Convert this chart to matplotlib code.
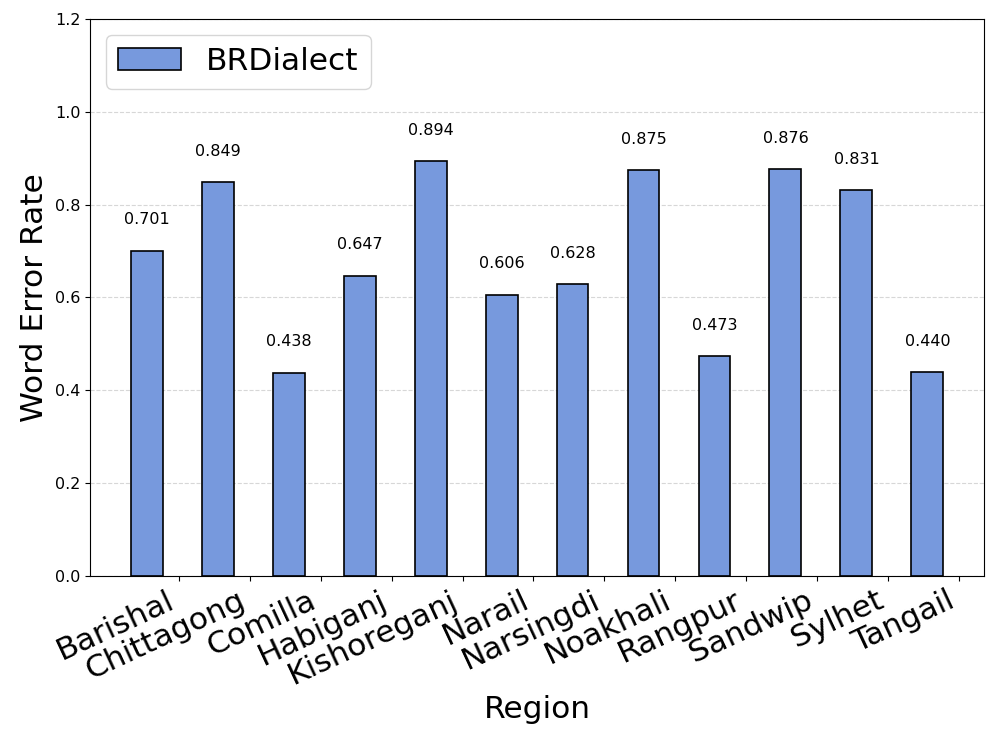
import numpy as np
import matplotlib
matplotlib.use("Agg")
import matplotlib.pyplot as plt

# datos
regiones = ["Barishal", "Chittagong", "Comilla", "Habiganj", "Kishoreganj", "Narail",
            "Narsingdi", "Noakhali", "Rangpur", "Sandwip", "Sylhet", "Tangail"]
wer_brdialect = [0.701, 0.849, 0.438, 0.647, 0.894, 0.606,
                 0.628, 0.875, 0.473, 0.876, 0.831, 0.440]

x = np.arange(len(regiones))
ancho = 0.45

fig, ax = plt.subplots(figsize=(9.97, 7.44), dpi=100)
fig.subplots_adjust(left=0.0903, right=0.987, top=0.9745, bottom=0.2258)

barras = ax.bar(x - ancho, wer_brdialect, ancho, color='#7799dd',
                edgecolor='black', linewidth=1.2, label='BRDialect')

for b, v in zip(barras, wer_brdialect):
    ax.text(b.get_x() + b.get_width() / 2, v + 0.05, f"{v:.3f}",
            ha='center', va='bottom', fontsize=11.5)

ax.set_xticks(x)
ax.set_xticklabels(regiones, rotation=25, ha='right', fontsize=22.5)
ax.set_ylim(0, 1.2)
ax.tick_params(axis='y', labelsize=11.5)
ax.set_xlabel("Region", fontsize=22.5)
ax.set_ylabel("Word Error Rate", fontsize=22.5)
ax.yaxis.grid(True, linestyle='--', alpha=0.5)
ax.set_axisbelow(True)
ax.legend(loc='upper left', fontsize=22.5)

plt.savefig("out.png", dpi=100)
